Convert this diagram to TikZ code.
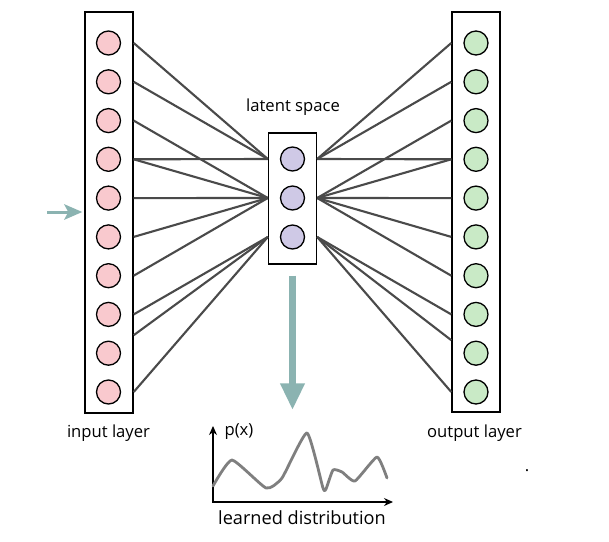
\documentclass[tikz,border=0pt]{standalone}
\usepackage{fontspec}
\setmainfont{Open Sans}
\usetikzlibrary{arrows.meta, calc}

\definecolor{inpink}{HTML}{F9C9CE}
\definecolor{latlilac}{HTML}{CFC9E6}
\definecolor{outgreen}{HTML}{C9EAC6}
\definecolor{linkgray}{HTML}{4A4A4A}
\definecolor{flowteal}{HTML}{8BB3B1}
\definecolor{curvegray}{HTML}{7F7F7F}

\begin{document}
\begin{tikzpicture}[
    x = 0.3mm, y = -0.3mm,
    layer/.style = {draw,
      line width = 1.2pt,
      fill = white,
      minimum width = 14.4mm},
    unit/.style = {circle, draw,
      line width = 1.1pt,
      inner sep = 0pt,
      minimum size = 7.2mm},
    inunit/.style = {unit, fill = inpink},
    latunit/.style = {unit, fill = latlilac},
    outunit/.style = {unit, fill = outgreen},
    link/.style = {draw = linkgray, line width = 1.8pt},
    caption/.style = {font = \fontsize{14.2}{17}\selectfont},
    flow/.style = {draw = flowteal, line width = 2.1mm,
      -{Triangle[width = 6.9mm, length = 8mm]}},
    feed/.style = {draw = flowteal, line width = 0.9mm,
      -{Stealth[width = 4.6mm, length = 5.4mm, inset = 1.2mm]}},
    axis/.style = {draw, line width = 1.1pt,
      {Stealth[width = 2.4mm, length = 2.7mm]}-{Stealth[width = 2.4mm, length = 2.7mm]}},
    curve/.style = {draw = curvegray, line width = 2.4pt,
      line join = round, line cap = round},
    ]

    \useasboundingbox (0, 0) rectangle (609, 542);

    % layers
    \node at (109, 212.5)
    [layer, minimum height = 120.3mm, name = in_layer] {};
    \node at (292.5, 198.5)
    [layer, minimum height = 39.3mm, name = lat_layer] {};
    \node at (476, 212)
    [layer, minimum height = 120mm, name = out_layer] {};

    \node at (108.5, 43) [inunit, name = in_1] {};
    \node at (108.5, 81.8) [inunit, name = in_2] {};
    \node at (108.5, 120.6) [inunit, name = in_3] {};
    \node at (108.5, 159.3) [inunit, name = in_4] {};
    \node at (108.5, 198.1) [inunit, name = in_5] {};
    \node at (108.5, 236.9) [inunit, name = in_6] {};
    \node at (108.5, 275.7) [inunit, name = in_7] {};
    \node at (108.5, 314.4) [inunit, name = in_8] {};
    \node at (108.5, 353.2) [inunit, name = in_9] {};
    \node at (108.5, 392) [inunit, name = in_10] {};

    \node at (292.5, 159) [latunit, name = lat_1] {};
    \node at (292.5, 198) [latunit, name = lat_2] {};
    \node at (292.5, 237) [latunit, name = lat_3] {};

    \node at (476, 43) [outunit, name = out_1] {};
    \node at (476, 81.8) [outunit, name = out_2] {};
    \node at (476, 120.6) [outunit, name = out_3] {};
    \node at (476, 159.3) [outunit, name = out_4] {};
    \node at (476, 198.1) [outunit, name = out_5] {};
    \node at (476, 236.9) [outunit, name = out_6] {};
    \node at (476, 275.7) [outunit, name = out_7] {};
    \node at (476, 314.4) [outunit, name = out_8] {};
    \node at (476, 353.2) [outunit, name = out_9] {};
    \node at (476, 392) [outunit, name = out_10] {};

    % encoder
    \draw [link] (in_layer.east |- in_1) to (lat_layer.west |- lat_1);
    \draw [link] (in_layer.east |- in_2) to (lat_layer.west |- lat_1);
    \draw [link] (in_layer.east |- in_4) to (lat_layer.west |- lat_1);
    \draw [link] (in_layer.east |- in_3) to (lat_layer.west |- lat_2);
    \draw [link] (in_layer.east |- in_4) to (lat_layer.west |- lat_2);
    \draw [link] (in_layer.east |- in_5) to (lat_layer.west |- lat_2);
    \draw [link] (in_layer.east |- in_6) to (lat_layer.west |- lat_2);
    \draw [link] (in_layer.east |- in_7) to (lat_layer.west |- lat_2);
    \draw [link] (in_layer.east |- in_8) to (lat_layer.west |- lat_3);
    \draw [link] ($(in_layer.east |- in_9) + (0, -18)$) to (lat_layer.west |- lat_3);
    \draw [link] (in_layer.east |- in_10) to (lat_layer.west |- lat_3);

    % decoder
    \draw [link] (lat_layer.east |- lat_1) to (out_layer.west |- out_1);
    \draw [link] (lat_layer.east |- lat_1) to (out_layer.west |- out_2);
    \draw [link] (lat_layer.east |- lat_1) to (out_layer.west |- out_4);
    \draw [link] (lat_layer.east |- lat_2) to (out_layer.west |- out_3);
    \draw [link] (lat_layer.east |- lat_2) to (out_layer.west |- out_4);
    \draw [link] (lat_layer.east |- lat_2) to (out_layer.west |- out_5);
    \draw [link] (lat_layer.east |- lat_2) to (out_layer.west |- out_6);
    \draw [link] (lat_layer.east |- lat_2) to (out_layer.west |- out_7);
    \draw [link] (lat_layer.east |- lat_3) to (out_layer.west |- out_8);
    \draw [link] (lat_layer.east |- lat_3) to ($(out_layer.west |- out_9) + (0, -13)$);
    \draw [link] (lat_layer.east |- lat_3) to (out_layer.west |- out_10);

    \node at (293, 107) [caption, name = lat_text] {latent space};
    \node at (108.5, 433) [caption, name = in_text] {input layer};
    \node at (474.5, 433) [caption, name = out_text] {output layer};

    \coordinate (feed_start) at (47, 212);
    \draw [feed, shorten > = 0.6mm] (feed_start) to (in_layer.west |- feed_start);

    \coordinate (sample) at (292.5, 410);
    \draw [flow, shorten < = 3.3mm] (lat_layer.south) to (sample);

    % learned distribution
    \coordinate (origin) at (213, 502);
    \coordinate (x_end) at (393, 502);
    \coordinate (y_end) at (213, 426);
    \draw [axis] (y_end) -- (origin) -- (x_end);

    \draw [curve] plot [smooth, tension = 0.3] coordinates {
      (213, 486) (232, 460) (266, 488) (282, 478) (307, 433)
      (323, 488) (326, 489) (333, 470) (342, 472) (355, 481)
      (377, 457) (387, 478)};

    \node at (239, 432) [caption, name = p_text] {p(x)};
    \node at (302, 518)
    [caption, font = \fontsize{15.5}{18}\selectfont, name = dist_text]
    {learned distribution};
    \node at (527, 471) [caption, inner sep = 0pt, name = dot_text] {.};
  \end{tikzpicture}
\end{document}
